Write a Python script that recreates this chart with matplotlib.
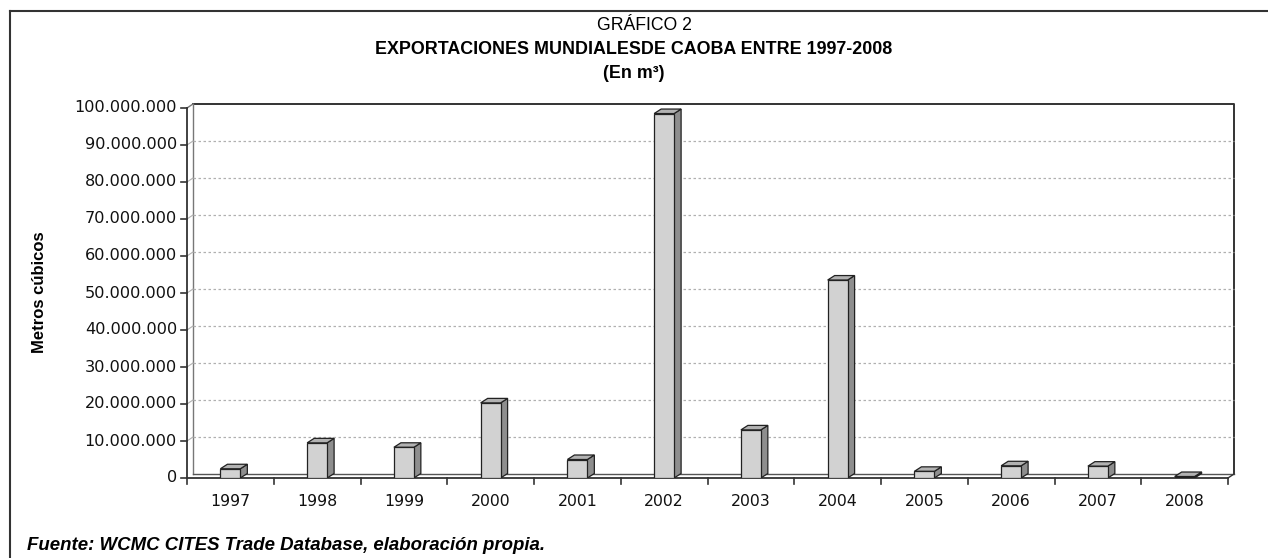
import matplotlib.pyplot as plt
from matplotlib.patches import Polygon
from matplotlib.lines import Line2D

years = ["1997", "1998", "1999", "2000", "2001", "2002",
         "2003", "2004", "2005", "2006", "2007", "2008"]
values = [2500000, 9500000, 8300000, 20300000, 5000000, 98500000,
          13000000, 53500000, 1800000, 3300000, 3200000, 400000]
yticks = list(range(0, 100000001, 10000000))

W, H = 1268, 558
fig = plt.figure(figsize=(W / 100, H / 100), dpi=100)

# front plane of the axes, in pixels
x0, x1 = 187, 1228
y_bot, y_top = 478, 108
ax = fig.add_axes([x0 / W, (H - y_bot) / H, (x1 - x0) / W, (y_bot - y_top) / H])
n = len(years)
ax.set_xlim(0, n)
ax.set_ylim(0, 100000000)
ax.axis("off")

ux = n / (x1 - x0)              # data units per pixel
uy = 100000000 / (y_bot - y_top)
wdx, wdy = 6 * ux, 4 * uy        # wall depth
bdx, bdy = 7 * ux, 4.5 * uy      # bar depth
ymax = 100000000
edge = "#333333"

# back wall, floor, left wall
ax.add_patch(Polygon([(wdx, wdy), (n + wdx, wdy), (n + wdx, ymax + wdy), (wdx, ymax + wdy)],
                     closed=True, facecolor="white", edgecolor="none", clip_on=False))
ax.plot([wdx, n + wdx, n + wdx], [ymax + wdy, ymax + wdy, wdy], color=edge, lw=1.4, clip_on=False)
ax.plot([wdx, wdx], [wdy, ymax + wdy], color="#777777", lw=1.0, clip_on=False)
ax.plot([0, wdx], [ymax, ymax + wdy], color="#777777", lw=1.0, clip_on=False)
ax.plot([wdx, n + wdx], [wdy, wdy], color="#555555", lw=1.0, clip_on=False)
ax.plot([n, n + wdx], [0, wdy], color=edge, lw=1.0, clip_on=False)

# gridlines on back wall with connectors on left wall
for t in yticks[1:-1]:
    ax.plot([wdx, n + wdx], [t + wdy, t + wdy], color="#b0b0b0", lw=0.9,
            linestyle=(0, (2, 2)), clip_on=False)
    ax.plot([0, wdx], [t, t + wdy], color="#b0b0b0", lw=0.8, clip_on=False)

# front axes lines
ax.plot([0, 0], [0, ymax], color=edge, lw=1.3, clip_on=False)
ax.plot([0, n], [0, 0], color=edge, lw=1.3, clip_on=False)

# ticks
tl = 6
for t in yticks:
    ax.plot([-tl * ux, 0], [t, t], color=edge, lw=1.2, clip_on=False)
    ax.text(-(tl + 4) * ux, t, f"{t:,}".replace(",", "."), ha="right", va="center",
            fontsize=11.6, family="DejaVu Sans", color="#111111")
for i in range(n + 1):
    ax.plot([i, i], [0, -tl * uy], color=edge, lw=1.2, clip_on=False)
for i, lab in enumerate(years):
    ax.text(i + 0.5, -16 * uy, lab, ha="center", va="top", fontsize=11.3,
            family="DejaVu Sans", color="#111111")

# bars
bw = 0.23
xs = [i + 0.5 for i in range(n)]
ax.bar(xs, values, width=bw, color="#d2d2d2", edgecolor="#222222", lw=0.9, zorder=5)
for x, v in zip(xs, values):
    l, r = x - bw / 2, x + bw / 2
    side = [(r, 0), (r + bdx, bdy), (r + bdx, v + bdy), (r, v)]
    top = [(l, v), (r, v), (r + bdx, v + bdy), (l + bdx, v + bdy)]
    ax.add_patch(Polygon(side, closed=True, facecolor="#8e8e8e", edgecolor="#222222",
                         lw=0.9, zorder=4))
    ax.add_patch(Polygon(top, closed=True, facecolor="#b2b2b2", edgecolor="#222222",
                         lw=0.9, zorder=4))

# y label
fig.text(40 / W, 1 - 292 / H, "Metros cúbicos", rotation=90, ha="center", va="center",
         fontsize=12, fontweight="bold", family="Liberation Sans")

# titles
fig.text(644 / W, 1 - 25 / H, "GRÁFICO 2", ha="center", va="center", fontsize=12.7,
         family="Liberation Sans")
fig.text(634 / W, 1 - 49 / H, "EXPORTACIONES MUNDIALESDE CAOBA ENTRE 1997-2008",
         ha="center", va="center", fontsize=12.9, fontweight="bold", family="Liberation Sans")
fig.text(634 / W, 1 - 73 / H, "(En m³)", ha="center", va="center", fontsize=12.9,
         fontweight="bold", family="Liberation Sans")

# source
fig.text(27 / W, 1 - 545 / H, "Fuente: WCMC CITES Trade Database, elaboración propia.",
         ha="left", va="center", fontsize=13.4, fontweight="bold", style="italic",
         family="Liberation Sans")

# outer frame (top and left only)
fig.add_artist(Line2D([10 / W, 1], [1 - 11 / H, 1 - 11 / H], color="#333333", lw=1.5))
fig.add_artist(Line2D([10 / W, 10 / W], [0, 1 - 11 / H], color="#333333", lw=1.5))

fig.savefig("out.png", dpi=100)
